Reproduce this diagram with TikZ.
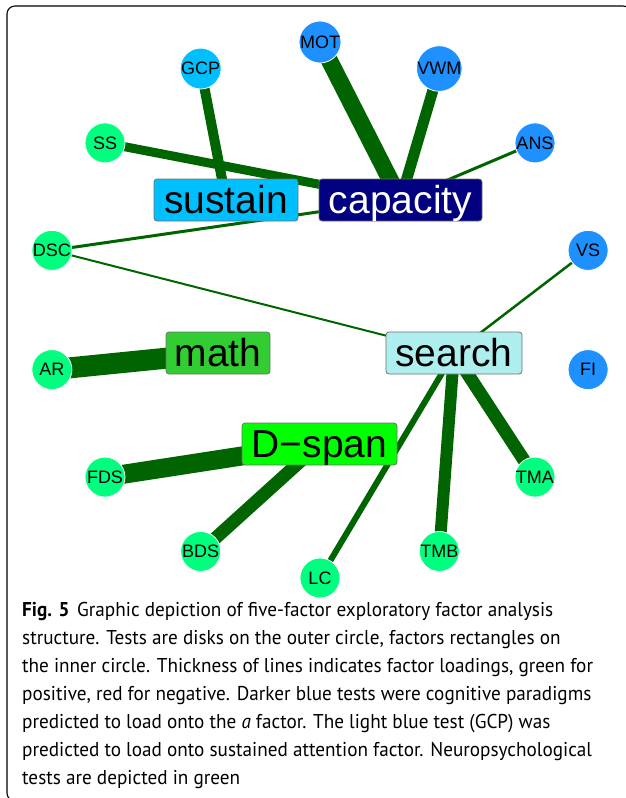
\documentclass[tikz,border=0pt]{standalone}
\usepackage{fontspec}
\setmainfont{PT Sans}
\newfontfamily\plotfont{Liberation Sans}

% qgraph-style colours
\definecolor{neuro}{HTML}{00FF7F}
\definecolor{dodger}{HTML}{1E90FF}
\definecolor{deepsky}{HTML}{00BFFF}
\definecolor{navyfac}{HTML}{000080}
\definecolor{limefac}{HTML}{32CD32}
\definecolor{paleturq}{HTML}{AFEEEE}
\definecolor{brightgreen}{HTML}{00FF00}
\definecolor{loading}{HTML}{006400}
\definecolor{boxrim}{HTML}{707070}

\pgfdeclarelayer{paper}
\pgfdeclarelayer{edges}
\pgfsetlayers{paper,edges,main}

\tikzset{
  test/.style={circle, minimum size=40pt, inner sep=0pt, draw=white, line width=0.8pt,
    font=\plotfont\fontsize{18}{18}\selectfont},
  factor/.style={rectangle, rounded corners=3pt, draw=boxrim, line width=0.8pt,
    minimum height=42pt, inner sep=0pt, text height=28pt, text depth=2pt,
    font=\plotfont\fontsize{39}{39}\selectfont},
  edge/.style={draw=loading, line cap=butt},
  captionline/.style={anchor=base west, inner sep=0pt, font=\fontsize{20}{26}\selectfont}
}
\newcommand{\capline}[1]{\scalebox{0.96}[1]{#1}}

\begin{document}
\begin{tikzpicture}[x=1pt, y=-1pt]
\useasboundingbox (0,0) rectangle (626,798);
\begin{pgfonlayer}{paper}
  \fill[white] (0,0) rectangle (626,798);
\end{pgfonlayer}

% outer frame
\draw[line width=1.1pt, rounded corners=8pt] (7,6) rectangle (631,801);

% tests on the outer ellipse
\foreach \k/\nm/\col in {0/MOT/dodger, 1/VWM/dodger, 2/ANS/dodger, 3/VS/dodger,
    4/FI/dodger, 5/TMA/neuro, 6/TMB/neuro, 7/LC/neuro, 8/BDS/neuro, 9/FDS/neuro,
    10/AR/neuro, 11/DSC/neuro, 12/SS/neuro, 13/GCP/deepsky}
  \node[test, fill=\col] (\nm) at ({320+275*cos(90-\k*360/14)}, {310-268*sin(90-\k*360/14)}) {\nm};

% factors
\node[factor, fill=deepsky, minimum width=144pt] (sustain) at (226,200) {sustain};
\node[factor, fill=navyfac, text=white, minimum width=163pt] (capacity) at (400.5,200) {capacity};
\node[factor, fill=limefac, minimum width=104pt] (math) at (218,353) {math};
\node[factor, fill=paleturq, minimum width=136pt] (search) at (454,353) {search};
\node[factor, fill=brightgreen, minimum width=155pt] (dspan) at (319.5,444) {D\textminus span};

% loadings, drawn beneath the nodes
\begin{pgfonlayer}{edges}
  \draw[edge, line width=17pt] (MOT.center) -- (capacity.center);
  \draw[edge, line width=11pt] (VWM.center) -- (capacity.center);
  \draw[edge, line width=3pt] (ANS.center) -- (capacity.center);
  \draw[edge, line width=9pt] (SS.center) -- (capacity.center);
  \draw[edge, line width=3pt] (DSC.center) -- (capacity.center);
  \draw[edge, line width=10pt] (GCP.center) -- (sustain.center);
  \draw[edge, line width=2pt] (DSC.center) -- (search.center);
  \draw[edge, line width=2.5pt] (VS.center) -- (search.center);
  \draw[edge, line width=13pt] (TMA.center) -- (search.center);
  \draw[edge, line width=12pt] (TMB.center) -- (search.center);
  \draw[edge, line width=6pt] (LC.center) -- (search.center);
  \draw[edge, line width=21pt] (AR.center) -- (math.center);
  \draw[edge, line width=19pt] (FDS.center) -- (dspan.center);
  \draw[edge, line width=13pt] (BDS.center) -- (dspan.center);
\end{pgfonlayer}

% caption
\node[captionline] (cap1) at (22,616) {\capline{\textbf{Fig. 5}\hspace{8pt}Graphic depiction of five-factor exploratory factor analysis}};
\node[captionline] (cap2) at (22,644) {\capline{structure. Tests are disks on the outer circle, factors rectangles on}};
\node[captionline] (cap3) at (22,672) {\capline{the inner circle. Thickness of lines indicates factor loadings, green for}};
\node[captionline] (cap4) at (22,700) {\capline{positive, red for negative. Darker blue tests were cognitive paradigms}};
\node[captionline] (cap5) at (22,728) {\capline{predicted to load onto the \textit{a} factor. The light blue test (GCP) was}};
\node[captionline] (cap6) at (22,756) {\capline{predicted to load onto sustained attention factor. Neuropsychological}};
\node[captionline] (cap7) at (22,784) {\capline{tests are depicted in green}};
\end{tikzpicture}
\end{document}
